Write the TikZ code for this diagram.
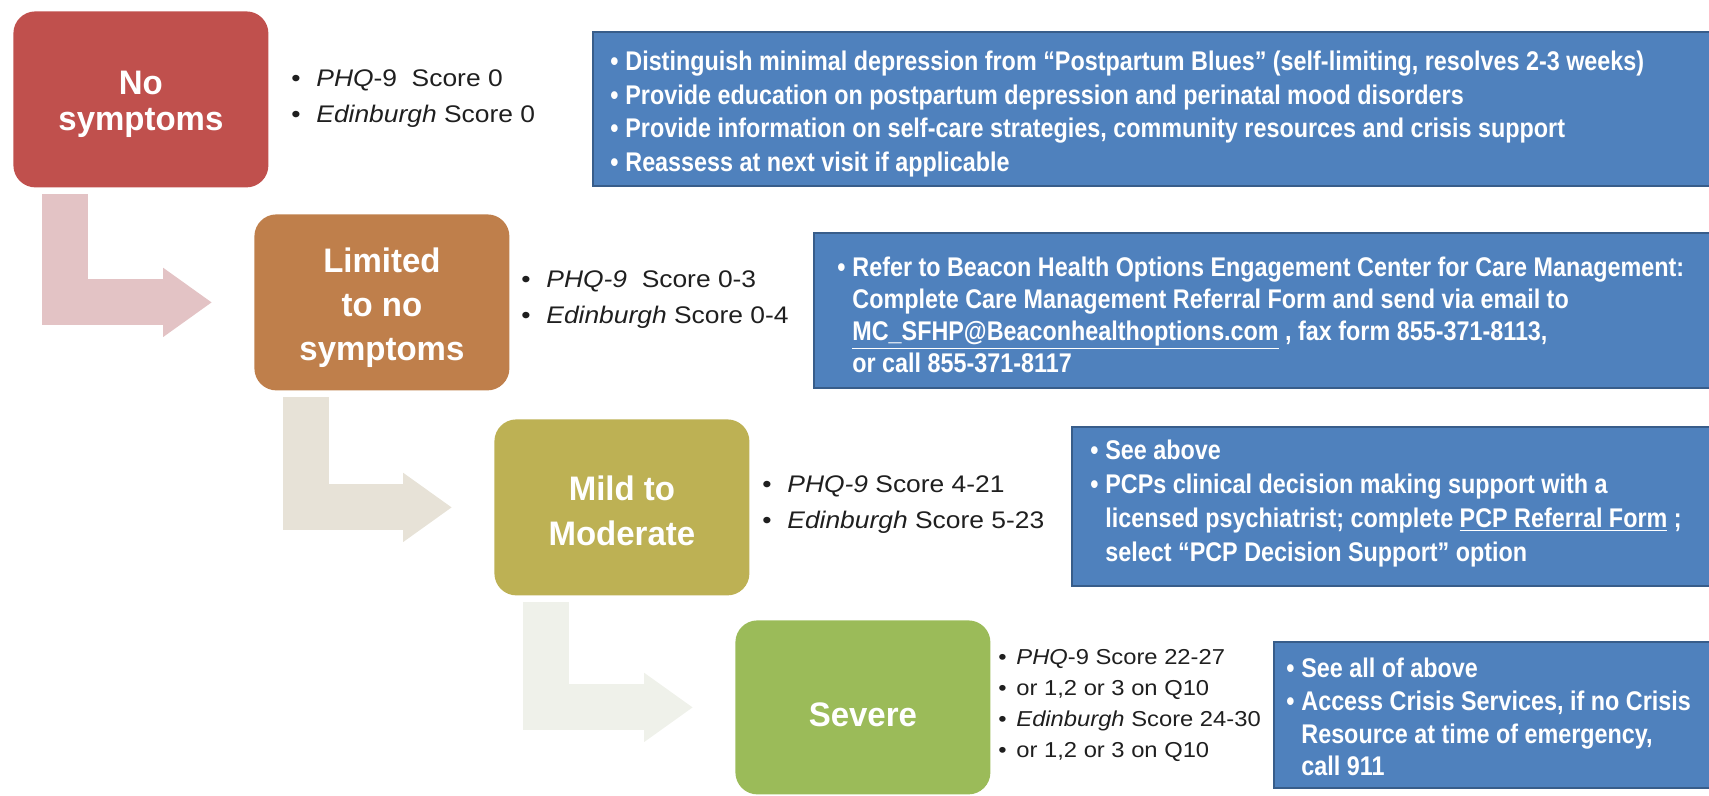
\documentclass[tikz,border=0pt]{standalone}
\usepackage{fontspec}
\setmainfont{Liberation Sans}
\newfontfamily\boxfont[FakeStretch=0.97]{Liberation Sans}
\newfontfamily\listfont[FakeStretch=1.1]{Liberation Sans}
\newfontfamily\notefont[FakeStretch=0.865]{Liberation Sans}
\usetikzlibrary{calc}
\usetikzlibrary{arrows.meta}
\definecolor{stageRed}{HTML}{C0504D}
\definecolor{stageOrange}{HTML}{BF7F4B}
\definecolor{stageOlive}{HTML}{BDB154}
\definecolor{stageGreen}{HTML}{9BBB59}
\definecolor{noteBlue}{HTML}{4F81BD}
\definecolor{noteEdge}{HTML}{385D8A}
\definecolor{flowRed}{HTML}{E3C3C5}
\definecolor{flowTan}{HTML}{E7E2D7}
\definecolor{flowGreen}{HTML}{EFF1EA}
\definecolor{listText}{HTML}{1F1F1F}
\newcommand{\bul}{\makebox[12.5pt][l]{\textbullet}}
\newcommand{\sbul}{\makebox[9pt][l]{\textbullet}}
\newcommand{\nbul}{\makebox[7.5pt][l]{\textbullet}}
\newcommand{\nind}{\hspace*{7.5pt}}

\begin{document}
\begin{tikzpicture}[x=0.5pt,y=-0.5pt,
  stage/.style={rounded corners=11pt, minimum width=127.5pt, minimum height=88pt,
    anchor=north west},
  stagetext/.style={text=white, align=center, inner sep=0pt,
    font=\boxfont\bfseries\fontsize{17}{18}\selectfont},
  scores/.style={anchor=west, align=left, text=listText, inner sep=0pt,
    font=\listfont\fontsize{12}{18}\selectfont},
  notebox/.style={anchor=north west, fill=noteBlue, draw=noteEdge, line width=1pt,
    minimum width=600pt, inner sep=0pt},
  notetext/.style={anchor=west, text=white, align=left, inner sep=0pt,
    font=\notefont\bfseries\fontsize{13.5}{16.9}\selectfont},
  flow/.style={line width=23pt, line join=miter, -{Triangle[length=24.5pt,width=33pt]}}]
\useasboundingbox (0,0) rectangle (1709,796);
\clip (0,0) rectangle (1709,796);
% the four stages
\node[stage, fill=stageRed] (noSym) at (13,11) {};
\node[stage, fill=stageOrange] (limSym) at (254,214) {};
\node[stage, fill=stageOlive] (mildMod) at (494,419) {};
\node[stage, fill=stageGreen, minimum height=87pt] (severe) at (735,620) {};
\node[stagetext] (noSymText) at ($(noSym.center)+(0,5)$) {No\\symptoms};
\node[stagetext, font=\boxfont\bfseries\fontsize{17}{22}\selectfont] (limSymText) at ($(limSym.center)+(0,5)$) {Limited\\to no\\symptoms};
\node[stagetext, font=\boxfont\bfseries\fontsize{17}{22.5}\selectfont] (mildModText) at ($(mildMod.center)+(0,3)$) {Mild to\\Moderate};
\node[stagetext] (severeText) at ($(severe.center)+(0,7)$) {Severe};
%     the bent arrows
\draw[flow, flowRed] ($(noSym.south west)+(52,6)$) |- ($(limSym.west)+(-42,0)$);
\draw[flow, flowTan] ($(limSym.south west)+(52,6)$) |- ($(mildMod.west)+(-42,0)$);
\draw[flow, flowGreen] ($(mildMod.south west)+(52,6)$) |- ($(severe.west)+(-42,0)$);
% scores next to each stage
\node[scores] (noScore) at (291,99) {\bul\textit{PHQ}-9~~Score 0\\\bul\textit{Edinburgh} Score 0};
\node[scores] (limScore) at (521,300) {\bul\textit{PHQ-9}~~Score 0-3\\\bul\textit{Edinburgh} Score 0-4};
\node[scores] (mildScore) at (762,505) {\bul\textit{PHQ-9} Score 4-21\\\bul\textit{Edinburgh} Score 5-23};
\node[scores, font=\listfont\fontsize{10.8}{15.5}\selectfont] (sevScore) at (998,705)
  {\sbul\textit{PHQ}-9 Score 22-27\\\sbul or 1,2 or 3 on Q10\\\sbul\textit{Edinburgh} Score 24-30\\\sbul or 1,2 or 3 on Q10};
% the blue notes
%     boxes
\node[notebox, minimum height=77pt] (noNote) at (592,31) {};
\node[notebox, minimum height=77.5pt] (limNote) at (813,232) {};
\node[notebox, minimum height=79.5pt] (mildNote) at (1071,426) {};
\node[notebox, minimum height=73pt] (sevNote) at (1273,641) {};
%     texts
\node[notetext] (noText) at ($(noNote.west)+(18,5)$)
  {\nbul Distinguish minimal depression from “Postpartum Blues” (self-limiting, resolves 2-3 weeks)\\
   \nbul Provide education on postpartum depression and perinatal mood disorders\\
   \nbul Provide information on self-care strategies, community resources and crisis support\\
   \nbul Reassess at next visit if applicable};
\node[notetext, font=\notefont\bfseries\fontsize{13.5}{16}\selectfont] (limText) at ($(limNote.west)+(24,4)$)
  {\nbul Refer to Beacon Health Options Engagement Center for Care Management:\\
   \nind Complete Care Management Referral Form and send via email to\\
   \nind\underline{MC\_SFHP@Beaconhealthoptions.com} , fax form 855-371-8113,\\
   \nind or call 855-371-8117};
\node[notetext] (mildText) at ($(mildNote.west)+(19,-3)$)
  {\nbul See above\\
   \nbul PCPs clinical decision making support with a\\
   \nind licensed psychiatrist; complete \underline{PCP Referral Form}~;\\
   \nind select “PCP Decision Support” option};
\node[notetext, font=\notefont\bfseries\fontsize{13.5}{16.4}\selectfont] (sevText) at ($(sevNote.west)+(13,2)$)
  {\nbul See all of above\\
   \nbul Access Crisis Services, if no Crisis\\
   \nind Resource at time of emergency,\\
   \nind call 911};
\end{tikzpicture}
\end{document}
